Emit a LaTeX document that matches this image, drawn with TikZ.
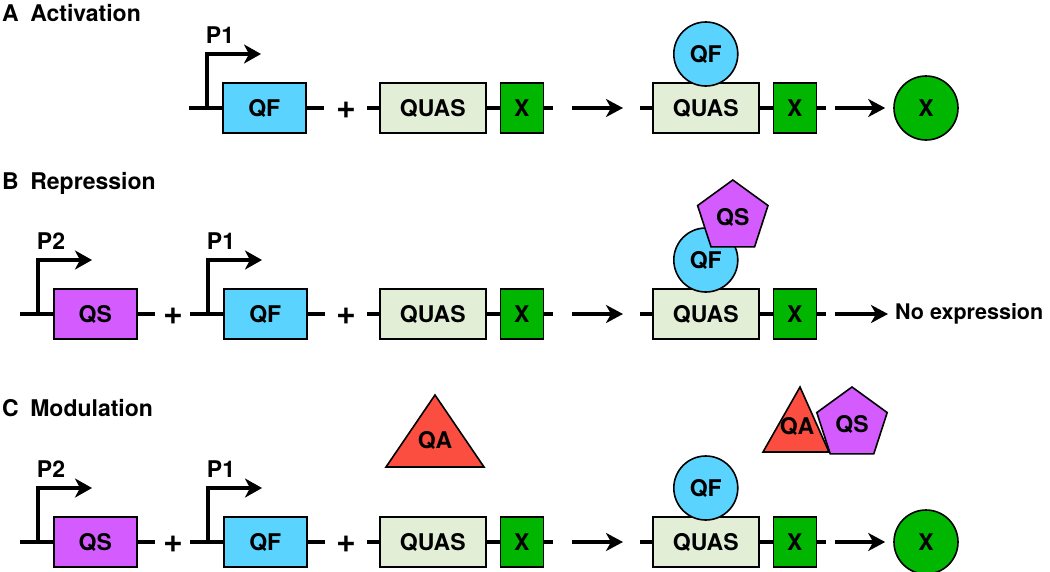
\documentclass[tikz,border=0pt]{standalone}
\usepackage{fontspec}
\setmainfont{TeX Gyre Heros}
\usepackage{tikz}
\usetikzlibrary{arrows.meta,shapes.geometric}
\definecolor{QFblue}{RGB}{90,212,255}
\definecolor{QSpurple}{RGB}{212,92,255}
\definecolor{QAred}{RGB}{252,78,64}
\definecolor{QUASgreen}{RGB}{226,238,214}
\definecolor{Xgreen}{RGB}{0,182,0}
\tikzset{
every node/.style={font=\fontsize{23}{27}\selectfont\bfseries},
title/.style={anchor=base west,inner sep=0pt},
dna/.style={line width=4pt},
prom/.style={line width=4pt,-{Stealth[length=17pt,width=19pt,inset=5pt]}},
conv/.style={line width=4pt,-{Stealth[length=17pt,width=18pt,inset=5pt]}},
part/.style={draw,line width=1.6pt,minimum height=50pt,inner sep=0pt},
qfbox/.style={part,fill=QFblue,minimum width=83pt},
qsbox/.style={part,fill=QSpurple,minimum width=83pt},
quasbox/.style={part,fill=QUASgreen,minimum width=106pt},
xbox/.style={part,fill=Xgreen,minimum width=43pt},
ball/.style={circle,draw,line width=1.6pt,minimum size=64pt,inner sep=0pt},
qfball/.style={ball,fill=QFblue},
xball/.style={ball,fill=Xgreen},
qspent/.style={regular polygon,regular polygon sides=5,draw,line width=1.6pt,
  fill=QSpurple,minimum size=74pt,inner sep=0pt},
qatri/.style={draw,line width=1.6pt,fill=QAred,line join=miter},
plus/.style={inner sep=0pt,font=\fontsize{34}{36}\selectfont\bfseries}
}
\newcommand{\Cassette}[6]{% name x y promoter style gene
\coordinate (#1s) at (#2,#3);
\coordinate (#1p) at (#2+18,#3);
\node[#5,anchor=west] (#1) at (#2+33,#3) {#6};
\coordinate (#1e) at ([xshift=17pt]#1.east);
\draw[dna] (#1s) -- (#1.west);
\draw[dna] (#1.east) -- (#1e);
\draw[prom] (#1p) |- ++(54,-54);
\node[inner sep=0pt] (#1l) at (#2+31,#3-73) {#4};
}
\newcommand{\Reporter}[3]{% name x y
\coordinate (#1s) at (#2,#3);
\node[quasbox,anchor=west] (#1q) at (#2+12,#3) {QUAS};
\node[xbox,anchor=west] (#1x) at ([xshift=13pt]#1q.east) {X};
\coordinate (#1e) at ([xshift=9pt]#1x.east);
\draw[dna] (#1s) -- (#1q.west);
\draw[dna] (#1q.east) -- (#1x.west);
\draw[dna] (#1x.east) -- (#1e);
}

\begin{document}
\begin{tikzpicture}[x=1pt,y=-1pt]
\useasboundingbox (0,0) rectangle (1050,571);
% A: activation
\node[title] (tA) at (2,21) {A\hspace{0.5em}Activation};
\Cassette{qfA}{189}{108}{P1}{qfbox}{QF}
\node[plus] (plA) at (346,110) {+};
\Reporter{repA1}{367}{108}
\Reporter{repA2}{640}{108}
\draw[conv] ([xshift=19pt]repA1e) -- ([xshift=-17pt]repA2s);
\node[qfball] (qfbA) at ([yshift=54pt]repA2q.center) {QF};
\node[xball] (xA) at (926,108) {X};
\draw[conv,shorten >=8pt] ([xshift=9pt]repA2e) -- (xA.west);
% B: repression
\node[title] (tB) at (2,189) {B\hspace{0.5em}Repression};
\Cassette{qsB}{20}{314}{P2}{qsbox}{QS}
\node[plus] (plB1) at (173,316) {+};
\Cassette{qfB}{190}{314}{P1}{qfbox}{QF}
\node[plus] (plB2) at (346,316) {+};
\Reporter{repB1}{367}{314}
\Reporter{repB2}{640}{314}
\draw[conv] ([xshift=19pt]repB1e) -- ([xshift=-17pt]repB2s);
\node[qfball] (qfbB) at ([yshift=54pt]repB2q.center) {QF};
\node[qspent] (qsB2) at ([shift={(27,-43)}]qfbB.center) {QS};
\node[anchor=west,inner sep=1pt,font=\fontsize{21.5}{26}\selectfont\bfseries]
  (noexp) at (894,314) {No expression};
\draw[conv,shorten >=6pt] ([xshift=9pt]repB2e) -- (noexp.west);
% C: modulation
\node[title] (tC) at (2,416) {C\hspace{0.5em}Modulation};
\Cassette{qsC}{20}{542}{P2}{qsbox}{QS}
\node[plus] (plC1) at (173,544) {+};
\Cassette{qfC}{190}{542}{P1}{qfbox}{QF}
\node[plus] (plC2) at (346,544) {+};
\Reporter{repC1}{367}{542}
\Reporter{repC2}{640}{542}
\draw[conv] ([xshift=19pt]repC1e) -- ([xshift=-17pt]repC2s);
\node[qfball] (qfbC) at ([yshift=54pt]repC2q.center) {QF};
\node[xball] (xC) at (926,542) {X};
\draw[conv,shorten >=8pt] ([xshift=9pt]repC2e) -- (xC.west);
% free QA, QA bound to QS
\draw[qatri] (386,467) -- (435,395) -- (484,467) -- cycle;
\node (qaC1) at (435,440) {QA};
\draw[qatri] (763,452) -- (800,387) -- (829,452) -- cycle;
\node (qaC2) at (797,426) {QA};
\node[qspent] (qsC2) at (852,424) {QS};
\end{tikzpicture}
\end{document}
